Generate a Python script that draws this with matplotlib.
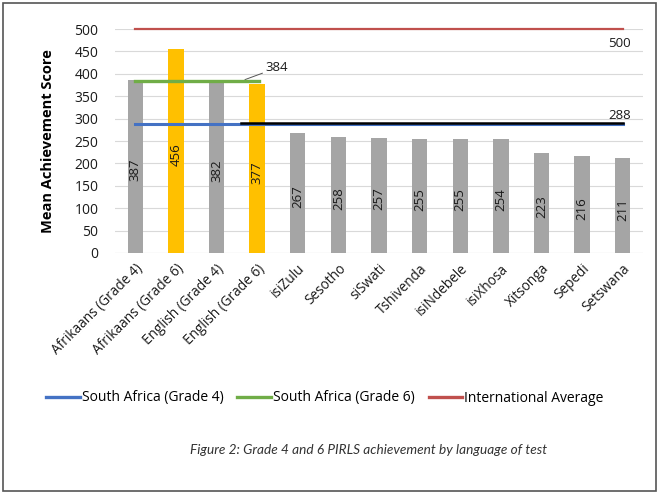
import matplotlib
matplotlib.use("Agg")
import matplotlib.pyplot as plt
from matplotlib.patches import Rectangle
from matplotlib.lines import Line2D

categories = ["Afrikaans (Grade 4)", "Afrikaans (Grade 6)", "English (Grade 4)",
              "English (Grade 6)", "isiZulu", "Sesotho", "siSwati", "Tshivenda",
              "isiNdebele", "isiXhosa", "Xitsonga", "Sepedi", "Setswana"]
scores = [387, 456, 382, 377, 267, 258, 257, 255, 255, 254, 223, 216, 211]
grade6 = [False, True, False, True] + [False] * 9
sa_grade4 = 288
sa_grade6 = 384
intl_avg = 500
yticks = list(range(0, 501, 50))

GRAY = "#A5A5A5"
ORANGE = "#FFC000"
BLUE = "#4472C4"
GREEN = "#70AD47"
RED = "#C0504D"
TXT = "#1a1a1a"

plt.rcParams['font.family'] = ['Open Sans', 'DejaVu Sans']

fig = plt.figure(figsize=(6.59, 4.95), dpi=100)
ax = fig.add_axes([0.1745, 0.4889, 0.8012, 0.4525])

x = list(range(len(categories)))
colors = [ORANGE if g else GRAY for g in grade6]
ax.bar(x, scores, width=0.38, color=colors, zorder=2)

for xi, v in zip(x, scores):
    ax.text(xi, v / 2 - 8, str(v), rotation=90, ha="center", va="center",
            fontsize=9.5, color=TXT, zorder=3)

ax.plot([0, 12], [intl_avg, intl_avg], color=RED, lw=1.6, zorder=4, clip_on=False)
ax.plot([0, 12], [sa_grade4, sa_grade4], color=BLUE, lw=2.2, zorder=4)
ax.plot([2.6, 12], [sa_grade4 + 2, sa_grade4 + 2], color="black", lw=1.8, zorder=5)
ax.plot([0, 3.05], [sa_grade6, sa_grade6], color=GREEN, lw=2.4, zorder=4)

ax.annotate(str(sa_grade6), xy=(2.7, sa_grade6 + 3), xytext=(3.2, 413),
            fontsize=9.5, ha="left", va="center", color=TXT,
            arrowprops=dict(arrowstyle="-", color="#555555", lw=0.7,
                            shrinkA=0, shrinkB=0))
ax.text(12.2, intl_avg - 32, str(intl_avg), ha="right", va="center", fontsize=9.5, color=TXT)
ax.text(12.2, sa_grade4 + 18, str(sa_grade4), ha="right", va="center", fontsize=9.5, color=TXT)

ax.set_xlim(-0.5, 12.5)
ax.set_ylim(0, 500)
ax.set_yticks(yticks)
ax.set_yticklabels([str(t) for t in yticks], fontsize=10, color=TXT)
ax.set_xticks(x)
ax.set_xticklabels(categories, rotation=45, ha="right", rotation_mode="anchor",
                   fontsize=9.8, color=TXT)
ax.tick_params(axis="both", length=0)
ax.tick_params(axis="x", pad=6)
ax.tick_params(axis="y", pad=12)
ax.grid(axis="y", color="#D9D9D9", lw=0.8, zorder=0)
for s in ax.spines.values():
    s.set_visible(False)
ax.axhline(0, color="#D9D9D9", lw=0.8, zorder=1)

ax.set_ylabel("Mean Achievement Score", fontsize=10.5, fontweight="bold", labelpad=14)

handles = [Line2D([], [], color=BLUE, lw=2.4),
           Line2D([], [], color=GREEN, lw=2.4),
           Line2D([], [], color=RED, lw=2.4)]
fig.legend(handles, ["South Africa (Grade 4)", "South Africa (Grade 6)", "International Average"],
           loc="center", bbox_to_anchor=(0.493, 1 - 398 / 495), ncol=3, frameon=False,
           fontsize=10, handlelength=2.4, handletextpad=0.15, columnspacing=1.0)

fig.text(0.56, 1 - 450 / 495, "Figure 2: Grade 4 and 6 PIRLS achievement by language of test",
         ha="center", va="center", fontsize=9.8, style="italic", family=["Lato", "DejaVu Sans"],
         color="#333333")

fig.patches.append(Rectangle((0.005, 0.008), 0.99, 0.985, transform=fig.transFigure,
                             fill=False, edgecolor="#555555", lw=1.2))

fig.savefig("out.png", dpi=100)
